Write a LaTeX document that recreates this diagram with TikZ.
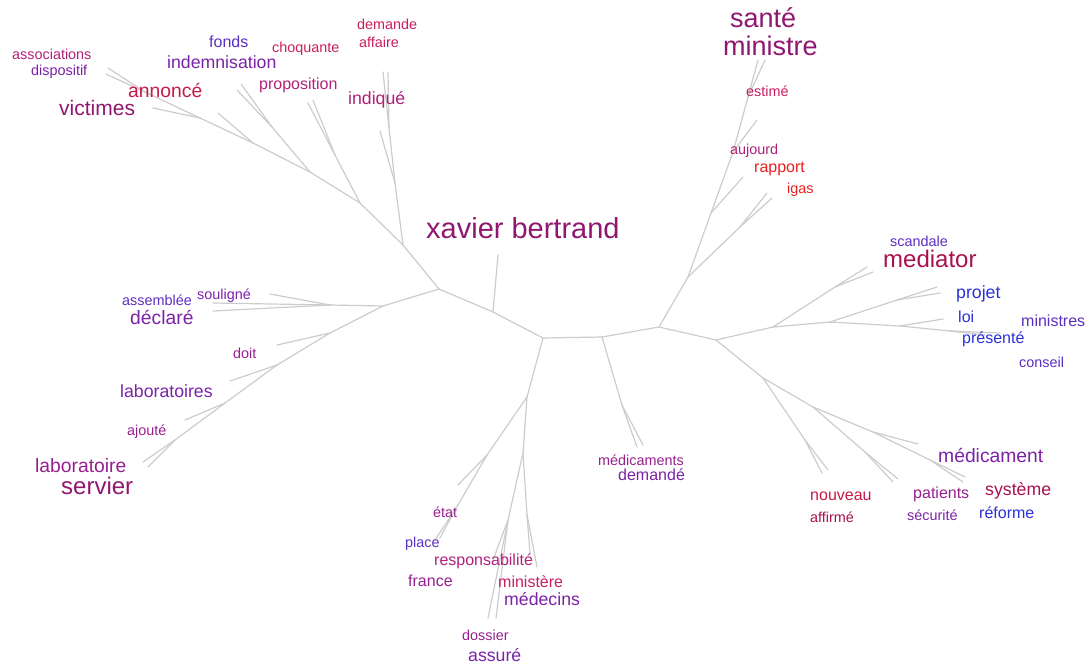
\documentclass[tikz,border=0pt]{standalone}
\usepackage{fontspec}
\setmainfont{Liberation Sans}
\definecolor{wred}{HTML}{E8201E}
\definecolor{wcrimson}{HTML}{C81848}
\definecolor{wrose}{HTML}{C81E60}
\definecolor{wwine}{HTML}{A8104E}
\definecolor{wmagenta}{HTML}{B0207A}
\definecolor{wplum}{HTML}{901670}
\definecolor{worchid}{HTML}{962090}
\definecolor{wviolet}{HTML}{7A22A8}
\definecolor{windigo}{HTML}{5A2EC0}
\definecolor{wblue}{HTML}{2A30D8}
\newcommand{\wsize}[1]{\fontsize{#1}{#1}\selectfont}

\begin{document}
\begin{tikzpicture}[x=1pt,y=-1pt]
\tikzstyle{branch}=[draw=gray!40,line width=1.2pt,line cap=round]
\tikzstyle{word}=[anchor=base west,inner sep=0pt]
\useasboundingbox (0,0) rectangle (1087,664);
\coordinate (A) at (439,289);
\coordinate (B) at (493,312);
\coordinate (C) at (543,338);
\coordinate (D) at (602,337);
\coordinate (E) at (659,327);
\coordinate (F) at (716,340);
\coordinate (xb) at (498,255);
\coordinate (Z) at (403,245);
\coordinate (Za) at (395,183);
\coordinate (Zb) at (389,128);
\coordinate (ind1) at (383,72);
\coordinate (ind2) at (388,72);
\coordinate (indq) at (380,131);
\coordinate (Z2) at (360,203);
\coordinate (Zp) at (335,155);
\coordinate (pr1) at (308,103);
\coordinate (pr2) at (313,100);
\coordinate (Z3) at (310,172);
\coordinate (Zi) at (272,127);
\coordinate (in1) at (237,90);
\coordinate (in2) at (241,84);
\coordinate (Z4) at (253,143);
\coordinate (ch) at (218,113);
\coordinate (Z5) at (200,118);
\coordinate (vi) at (153,108);
\coordinate (Zs) at (145,92);
\coordinate (as1) at (108,68);
\coordinate (as2) at (106,74);
\coordinate (U) at (383,306);
\coordinate (V) at (330,305);
\coordinate (so) at (270,294);
\coordinate (am) at (213,303);
\coordinate (dc) at (213,311);
\coordinate (W) at (330,333);
\coordinate (dt) at (277,345);
\coordinate (X) at (277,365);
\coordinate (lb) at (230,381);
\coordinate (Y) at (225,403);
\coordinate (aj) at (185,420);
\coordinate (Yb) at (175,440);
\coordinate (ls1) at (143,462);
\coordinate (ls2) at (148,467);
\coordinate (R) at (527,397);
\coordinate (R1) at (487,455);
\coordinate (et) at (458,485);
\coordinate (R2) at (455,510);
\coordinate (pl1) at (435,540);
\coordinate (pl2) at (440,538);
\coordinate (S) at (523,453);
\coordinate (Sm) at (527,515);
\coordinate (mi1) at (530,553);
\coordinate (mi2) at (537,567);
\coordinate (T) at (508,520);
\coordinate (rs) at (493,560);
\coordinate (do1) at (488,618);
\coordinate (do2) at (496,618);
\coordinate (Dm) at (622,405);
\coordinate (md1) at (637,447);
\coordinate (md2) at (643,445);
\coordinate (G) at (688,277);
\coordinate (K) at (740,227);
\coordinate (ig1) at (767,193);
\coordinate (ig2) at (772,198);
\coordinate (H) at (711,213);
\coordinate (ra) at (743,177);
\coordinate (I) at (733,152);
\coordinate (es) at (757,120);
\coordinate (J) at (748,97);
\coordinate (sa1) at (758,60);
\coordinate (sa2) at (765,60);
\coordinate (L) at (773,327);
\coordinate (M) at (835,287);
\coordinate (me1) at (867,267);
\coordinate (me2) at (873,272);
\coordinate (N) at (830,322);
\coordinate (Np) at (897,300);
\coordinate (pj1) at (937,287);
\coordinate (pj2) at (940,293);
\coordinate (N2) at (900,326);
\coordinate (lo) at (943,319);
\coordinate (N3) at (950,331);
\coordinate (pe1) at (965,332);
\coordinate (pe2) at (1000,333);
\coordinate (pe3) at (985,335);
\coordinate (O) at (763,378);
\coordinate (Oa) at (805,440);
\coordinate (nv1) at (822,473);
\coordinate (nv2) at (828,470);
\coordinate (P) at (813,407);
\coordinate (Pa) at (865,452);
\coordinate (pa1) at (893,482);
\coordinate (pa2) at (898,479);
\coordinate (Q) at (873,432);
\coordinate (mc) at (918,444);
\coordinate (Qs) at (930,460);
\coordinate (sy1) at (965,477);
\coordinate (sy2) at (963,482);
% backbone
\draw[branch] (A) -- (B);
\draw[branch] (B) -- (C);
\draw[branch] (C) -- (D);
\draw[branch] (D) -- (E);
\draw[branch] (E) -- (F);
\draw[branch] (B) -- (xb);
% upper left
\draw[branch] (A) -- (Z);
\draw[branch] (Z) -- (Za);
\draw[branch] (Za) -- (indq);
\draw[branch] (Za) -- (Zb);
\draw[branch] (Zb) -- (ind1);
\draw[branch] (Zb) -- (ind2);
\draw[branch] (Z) -- (Z2);
\draw[branch] (Z2) -- (Zp);
\draw[branch] (Zp) -- (pr1);
\draw[branch] (Zp) -- (pr2);
\draw[branch] (Z2) -- (Z3);
\draw[branch] (Z3) -- (Zi);
\draw[branch] (Zi) -- (in1);
\draw[branch] (Zi) -- (in2);
\draw[branch] (Z3) -- (Z4);
\draw[branch] (Z4) -- (ch);
\draw[branch] (Z4) -- (Z5);
\draw[branch] (Z5) -- (vi);
\draw[branch] (Z5) -- (Zs);
\draw[branch] (Zs) -- (as1);
\draw[branch] (Zs) -- (as2);
% left
\draw[branch] (A) -- (U);
\draw[branch] (U) -- (V);
\draw[branch] (V) -- (so);
\draw[branch] (V) -- (am);
\draw[branch] (V) -- (dc);
\draw[branch] (U) -- (W);
\draw[branch] (W) -- (dt);
\draw[branch] (W) -- (X);
\draw[branch] (X) -- (lb);
\draw[branch] (X) -- (Y);
\draw[branch] (Y) -- (aj);
\draw[branch] (Y) -- (Yb);
\draw[branch] (Yb) -- (ls1);
\draw[branch] (Yb) -- (ls2);
% bottom
\draw[branch] (C) -- (R);
\draw[branch] (R) -- (R1);
\draw[branch] (R1) -- (et);
\draw[branch] (R1) -- (R2);
\draw[branch] (R2) -- (pl1);
\draw[branch] (R2) -- (pl2);
\draw[branch] (R) -- (S);
\draw[branch] (S) -- (Sm);
\draw[branch] (Sm) -- (mi1);
\draw[branch] (Sm) -- (mi2);
\draw[branch] (S) -- (T);
\draw[branch] (T) -- (rs);
\draw[branch] (T) -- (do1);
\draw[branch] (T) -- (do2);
\draw[branch] (D) -- (Dm);
\draw[branch] (Dm) -- (md1);
\draw[branch] (Dm) -- (md2);
% upper right
\draw[branch] (E) -- (G);
\draw[branch] (G) -- (K);
\draw[branch] (K) -- (ig1);
\draw[branch] (K) -- (ig2);
\draw[branch] (G) -- (H);
\draw[branch] (H) -- (ra);
\draw[branch] (H) -- (I);
\draw[branch] (I) -- (es);
\draw[branch] (I) -- (J);
\draw[branch] (J) -- (sa1);
\draw[branch] (J) -- (sa2);
% right
\draw[branch] (F) -- (L);
\draw[branch] (L) -- (M);
\draw[branch] (M) -- (me1);
\draw[branch] (M) -- (me2);
\draw[branch] (L) -- (N);
\draw[branch] (N) -- (Np);
\draw[branch] (Np) -- (pj1);
\draw[branch] (Np) -- (pj2);
\draw[branch] (N) -- (N2);
\draw[branch] (N2) -- (lo);
\draw[branch] (N2) -- (N3);
\draw[branch] (N3) -- (pe1);
\draw[branch] (N3) -- (pe2);
\draw[branch] (N3) -- (pe3);
\draw[branch] (F) -- (O);
\draw[branch] (O) -- (Oa);
\draw[branch] (Oa) -- (nv1);
\draw[branch] (Oa) -- (nv2);
\draw[branch] (O) -- (P);
\draw[branch] (P) -- (Pa);
\draw[branch] (Pa) -- (pa1);
\draw[branch] (Pa) -- (pa2);
\draw[branch] (P) -- (Q);
\draw[branch] (Q) -- (mc);
\draw[branch] (Q) -- (Qs);
\draw[branch] (Qs) -- (sy1);
\draw[branch] (Qs) -- (sy2);
% words
\node[word,font=\wsize{14.4},text=wmagenta] (wassociations) at (12,59) {associations};
\node[word,font=\wsize{14.4},text=wviolet] (wdispositif) at (31,75) {dispositif};
\node[word,font=\wsize{21},text=wplum] (wvictimes) at (59,115) {victimes};
\node[word,font=\wsize{19.3},text=wcrimson] (wannonce) at (128,97) {annoncé};
\node[word,font=\wsize{16},text=windigo] (wfonds) at (209,47) {fonds};
\node[word,font=\wsize{17.7},text=wviolet] (windemnisation) at (167,68) {indemnisation};
\node[word,font=\wsize{14.4},text=wrose] (wchoquante) at (272,52) {choquante};
\node[word,font=\wsize{16},text=wmagenta] (wproposition) at (259,89) {proposition};
\node[word,font=\wsize{14.4},text=wrose] (wdemande) at (357,29) {demande};
\node[word,font=\wsize{14.4},text=wrose] (waffaire) at (359,47) {affaire};
\node[word,font=\wsize{17.7},text=wmagenta] (windique) at (348,104) {indiqué};
\node[word,font=\wsize{29},text=wplum] (wxavier) at (426,238) {xavier bertrand};
\node[word,font=\wsize{27},text=wplum] (wsante) at (730,27) {santé};
\node[word,font=\wsize{27},text=wplum] (wministre) at (723,55) {ministre};
\node[word,font=\wsize{14.4},text=wrose] (westime) at (746,96) {estimé};
\node[word,font=\wsize{14.4},text=wmagenta] (waujourd) at (730,154) {aujourd};
\node[word,font=\wsize{16},text=wred] (wrapport) at (754,172) {rapport};
\node[word,font=\wsize{14.4},text=wred] (wigas) at (787,193) {igas};
\node[word,font=\wsize{14.4},text=windigo] (wscandale) at (890,246) {scandale};
\node[word,font=\wsize{24},text=wwine] (wmediator) at (883,267) {mediator};
\node[word,font=\wsize{17.7},text=wblue] (wprojet) at (956,298) {projet};
\node[word,font=\wsize{16},text=wblue] (wloi) at (958,322) {loi};
\node[word,font=\wsize{16},text=windigo] (wministres) at (1021,326) {ministres};
\node[word,font=\wsize{16},text=wblue] (wpresente) at (962,343) {présenté};
\node[word,font=\wsize{14.4},text=windigo] (wconseil) at (1019,367) {conseil};
\node[word,font=\wsize{19.3},text=wviolet] (wmedicament) at (938,462) {médicament};
\node[word,font=\wsize{17.7},text=wwine] (wsysteme) at (985,495) {système};
\node[word,font=\wsize{16},text=wblue] (wreforme) at (979,518) {réforme};
\node[word,font=\wsize{16},text=worchid] (wpatients) at (913,498) {patients};
\node[word,font=\wsize{14.4},text=wviolet] (wsecurite) at (907,520) {sécurité};
\node[word,font=\wsize{16},text=wcrimson] (wnouveau) at (810,500) {nouveau};
\node[word,font=\wsize{14.4},text=wwine] (waffirme) at (810,522) {affirmé};
\node[word,font=\wsize{14.4},text=worchid] (wmedicaments) at (598,465) {médicaments};
\node[word,font=\wsize{16},text=wviolet] (wdemande2) at (618,480) {demandé};
\node[word,font=\wsize{14.4},text=worchid] (wetat) at (433,517) {état};
\node[word,font=\wsize{14.4},text=windigo] (wplace) at (405,547) {place};
\node[word,font=\wsize{16},text=wmagenta] (wresponsabilite) at (434,565) {responsabilité};
\node[word,font=\wsize{16},text=worchid] (wfrance) at (408,586) {france};
\node[word,font=\wsize{16},text=wrose] (wministere) at (498,587) {ministère};
\node[word,font=\wsize{17.7},text=wviolet] (wmedecins) at (504,605) {médecins};
\node[word,font=\wsize{14.4},text=worchid] (wdossier) at (462,640) {dossier};
\node[word,font=\wsize{17.7},text=wviolet] (wassure) at (468,661) {assuré};
\node[word,font=\wsize{14.4},text=windigo] (wassemblee) at (122,305) {assemblée};
\node[word,font=\wsize{14.4},text=wviolet] (wsouligne) at (197,299) {souligné};
\node[word,font=\wsize{19.3},text=wviolet] (wdeclare) at (130,324) {déclaré};
\node[word,font=\wsize{14.4},text=worchid] (wdoit) at (233,358) {doit};
\node[word,font=\wsize{17.7},text=wviolet] (wlaboratoires) at (120,397) {laboratoires};
\node[word,font=\wsize{14.4},text=worchid] (wajoute) at (127,435) {ajouté};
\node[word,font=\wsize{19.3},text=worchid] (wlaboratoire) at (35,472) {laboratoire};
\node[word,font=\wsize{24},text=wplum] (wservier) at (61,494) {servier};
\end{tikzpicture}
\end{document}
